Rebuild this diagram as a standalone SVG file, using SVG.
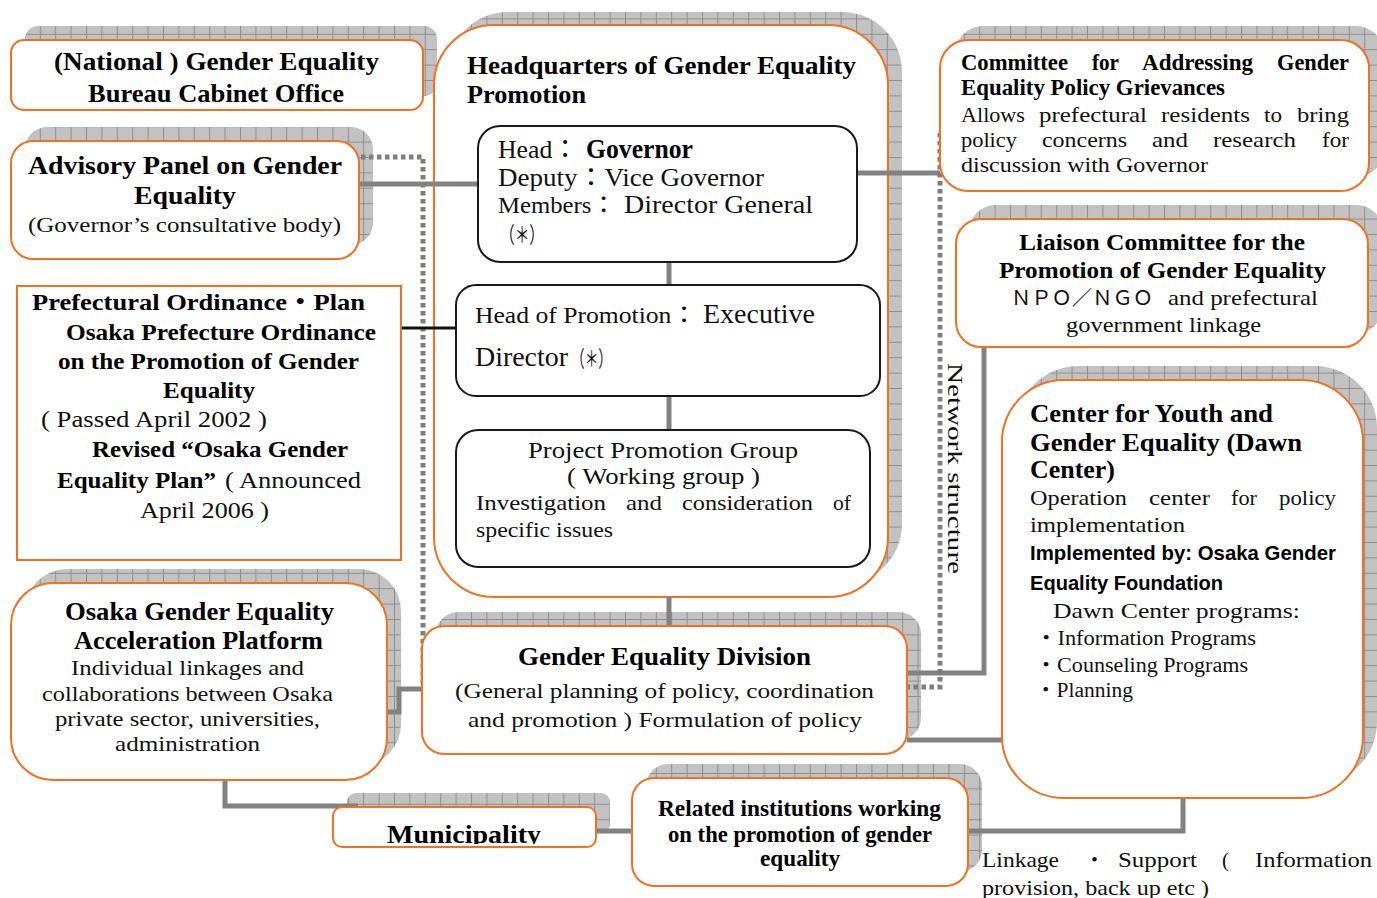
<svg xmlns="http://www.w3.org/2000/svg" width="1377" height="898" viewBox="0 0 1377 898">
<defs>
  <pattern id="grid" patternUnits="userSpaceOnUse" x="9" y="3" width="15.4" height="15.4">
    <rect width="15.4" height="15.4" fill="#c2c2c2"/>
    <path d="M0 0.5H15.4M0.5 0V15.4" stroke="#8e8e8e" stroke-width="1" fill="none"/>
  </pattern>
  <clipPath id="muniClip"><rect x="333" y="807" width="263" height="37"/></clipPath>
</defs>
<style>
  .shadow { fill: url(#grid); }
  .box { fill: #fff; stroke: #f37021; stroke-width: 2; }
  .inner { fill: #fff; stroke: #1a1a1a; stroke-width: 2; }
  .conn { fill: none; stroke: #828282; stroke-width: 5; }
  .dot { fill: none; stroke: #7e7e7e; stroke-width: 5; stroke-dasharray: 4.5 3.5; }
  .blk { fill: none; stroke: #111; stroke-width: 3; }
  text { font-family: "Liberation Serif", "Noto Sans CJK JP", serif; fill: #111; }
  .b { font-weight: bold; fill: #000; }
  .sans { font-family: "Liberation Sans", "Noto Sans CJK JP", sans-serif; font-weight: bold; fill: #000; }
  .cjk { font-family: "Noto Sans CJK JP", sans-serif; }
</style>
<rect width="1377" height="898" fill="#fff"/>

<!-- grid-textured drop shadows -->
<g id="shadows">
  <rect class="shadow" x="25" y="26" width="412" height="70" rx="13"/>
  <rect class="shadow" x="25" y="127" width="348" height="118" rx="22"/>
  <rect class="shadow" x="448" y="12" width="454" height="572" rx="60"/>
  <rect class="shadow" x="955" y="26" width="429" height="151" rx="28"/>
  <rect class="shadow" x="970" y="205" width="412" height="128" rx="25"/>
  <rect class="shadow" x="1016" y="366" width="361" height="418" rx="62"/>
  <rect class="shadow" x="25" y="569" width="376" height="197" rx="42"/>
  <rect class="shadow" x="436" y="612" width="485" height="128" rx="22"/>
  <rect class="shadow" x="347" y="793" width="263" height="40" rx="9"/>
  <rect class="shadow" x="646" y="764" width="336" height="108" rx="22"/>
</g>

<!-- headquarters frame -->
<g id="hq">
  <rect class="box" x="434" y="25" width="454" height="572" rx="60"/>
  <text class="b" x="467" y="74" font-size="26" textLength="389" lengthAdjust="spacingAndGlyphs">Headquarters of Gender Equality</text>
  <text class="b" x="467" y="103" font-size="26" textLength="119" lengthAdjust="spacingAndGlyphs">Promotion</text>
</g>

<!-- connectors -->
<g id="connectors">
  <path class="conn" d="M359 184H479"/>
  <path class="conn" d="M857 173H940"/>
  <path class="conn" d="M669 262V285"/>
  <path class="conn" d="M669 396V430"/>
  <path class="conn" d="M669 597V626"/>
  <path class="conn" d="M984 347V673H907"/>
  <path class="conn" d="M907 740H1002"/>
  <path class="conn" d="M422 689H399V712H387"/>
  <path class="conn" d="M225 780V806H358"/>
  <path class="conn" d="M596 831H632"/>
  <path class="conn" d="M968 831H1183V798"/>
  <path class="dot" d="M361 157H423V689"/>
  <path class="dot" d="M940 133V687H907"/>
  <path class="blk" d="M401 328H456"/>
</g>

<g id="hq-head">
  <rect class="inner" x="478" y="126" width="379" height="136" rx="22"/>
  <text x="498" y="158" font-size="26" textLength="80" lengthAdjust="spacingAndGlyphs">Head：</text>
  <text class="b" x="586" y="158" font-size="27" textLength="107" lengthAdjust="spacingAndGlyphs">Governor</text>
  <text x="498" y="186" font-size="25" textLength="266" lengthAdjust="spacingAndGlyphs">Deputy：Vice Governor</text>
  <text x="498" y="213" font-size="24" textLength="118" lengthAdjust="spacingAndGlyphs">Members：</text>
  <text x="624" y="213" font-size="26" textLength="189" lengthAdjust="spacingAndGlyphs">Director General</text>
  <text x="500" y="242" font-size="22" textLength="44" lengthAdjust="spacingAndGlyphs">（＊）</text>
</g>

<g id="hq-promotion">
  <rect class="inner" x="456" y="285" width="424" height="111" rx="20"/>
  <text x="475" y="323" font-size="24" textLength="222" lengthAdjust="spacingAndGlyphs">Head of Promotion：</text>
  <text x="703" y="323" font-size="27" textLength="112" lengthAdjust="spacingAndGlyphs">Executive</text>
  <text x="475" y="366" font-size="27" textLength="93" lengthAdjust="spacingAndGlyphs">Director</text>
  <text x="571" y="366" font-size="22" textLength="41" lengthAdjust="spacingAndGlyphs">（＊）</text>
</g>

<g id="hq-project">
  <rect class="inner" x="456" y="430" width="414" height="137" rx="22"/>
  <text x="528" y="458" font-size="23" textLength="270" lengthAdjust="spacingAndGlyphs">Project Promotion Group</text>
  <text x="567" y="484" font-size="23" textLength="193" lengthAdjust="spacingAndGlyphs">( Working group )</text>
  <text x="476" y="510" font-size="21" textLength="130" lengthAdjust="spacingAndGlyphs">Investigation</text>
  <text x="626" y="510" font-size="21" textLength="36" lengthAdjust="spacingAndGlyphs">and</text>
  <text x="682" y="510" font-size="21" textLength="131" lengthAdjust="spacingAndGlyphs">consideration</text>
  <text x="833" y="510" font-size="21" textLength="18" lengthAdjust="spacingAndGlyphs">of</text>
  <text x="476" y="537" font-size="21" textLength="137" lengthAdjust="spacingAndGlyphs">specific issues</text>
</g>

<g id="national">
  <rect class="box" x="11" y="40" width="412" height="70" rx="13"/>
  <text class="b" x="54" y="70" font-size="25" textLength="325" lengthAdjust="spacingAndGlyphs">(National ) Gender Equality</text>
  <text class="b" x="88" y="102" font-size="25" textLength="256" lengthAdjust="spacingAndGlyphs">Bureau Cabinet Office</text>
</g>

<g id="advisory">
  <rect class="box" x="11" y="141" width="348" height="118" rx="22"/>
  <text class="b" x="28" y="174" font-size="26" textLength="314" lengthAdjust="spacingAndGlyphs">Advisory Panel on Gender</text>
  <text class="b" x="134" y="204" font-size="26" textLength="102" lengthAdjust="spacingAndGlyphs">Equality</text>
  <text x="28" y="232" font-size="21" textLength="313" lengthAdjust="spacingAndGlyphs">(Governor’s consultative body)</text>
</g>

<g id="ordinance">
  <rect class="box" x="17" y="286" width="384" height="274"/>
  <text class="b" x="32" y="310" font-size="24" textLength="333" lengthAdjust="spacingAndGlyphs">Prefectural Ordinance・Plan</text>
  <text class="b" x="66" y="340" font-size="24" textLength="310" lengthAdjust="spacingAndGlyphs">Osaka Prefecture Ordinance</text>
  <text class="b" x="58" y="369" font-size="24" textLength="301" lengthAdjust="spacingAndGlyphs">on the Promotion of Gender</text>
  <text class="b" x="163" y="398" font-size="24" textLength="92" lengthAdjust="spacingAndGlyphs">Equality</text>
  <text x="41" y="427" font-size="23" textLength="226" lengthAdjust="spacingAndGlyphs">( Passed April 2002 )</text>
  <text class="b" x="92" y="457" font-size="24" textLength="256" lengthAdjust="spacingAndGlyphs">Revised “Osaka Gender</text>
  <text class="b" x="57" y="488" font-size="24" textLength="159" lengthAdjust="spacingAndGlyphs">Equality Plan”</text>
  <text x="225" y="488" font-size="23" textLength="136" lengthAdjust="spacingAndGlyphs">( Announced</text>
  <text x="140" y="518" font-size="23" textLength="129" lengthAdjust="spacingAndGlyphs">April 2006 )</text>
</g>

<g id="platform">
  <rect class="box" x="11" y="583" width="376" height="197" rx="42"/>
  <text class="b" x="65" y="620" font-size="26" textLength="269" lengthAdjust="spacingAndGlyphs">Osaka Gender Equality</text>
  <text class="b" x="74" y="649" font-size="26" textLength="249" lengthAdjust="spacingAndGlyphs">Acceleration Platform</text>
  <text x="71" y="675" font-size="22" textLength="233" lengthAdjust="spacingAndGlyphs">Individual linkages and</text>
  <text x="42" y="701" font-size="22" textLength="291" lengthAdjust="spacingAndGlyphs">collaborations between Osaka</text>
  <text x="55" y="726" font-size="22" textLength="265" lengthAdjust="spacingAndGlyphs">private sector, universities,</text>
  <text x="115" y="751" font-size="22" textLength="145" lengthAdjust="spacingAndGlyphs">administration</text>
</g>

<g id="division">
  <rect class="box" x="422" y="626" width="485" height="128" rx="22"/>
  <text class="b" x="518" y="665" font-size="25" textLength="293" lengthAdjust="spacingAndGlyphs">Gender Equality Division</text>
  <text x="455" y="698" font-size="22" textLength="419" lengthAdjust="spacingAndGlyphs">(General planning of policy, coordination</text>
  <text x="468" y="727" font-size="22" textLength="394" lengthAdjust="spacingAndGlyphs">and promotion ) Formulation of policy</text>
</g>

<g id="municipality">
  <rect class="box" x="333" y="807" width="263" height="40" rx="9"/>
  <text class="b" x="387" y="843" font-size="26" textLength="154" lengthAdjust="spacingAndGlyphs" clip-path="url(#muniClip)">Municipality</text>
</g>

<g id="related">
  <rect class="box" x="632" y="778" width="336" height="108" rx="22"/>
  <text class="b" x="658" y="816" font-size="23" textLength="283" lengthAdjust="spacingAndGlyphs">Related institutions working</text>
  <text class="b" x="668" y="842" font-size="23" textLength="264" lengthAdjust="spacingAndGlyphs">on the promotion of gender</text>
  <text class="b" x="760" y="866" font-size="23" textLength="80" lengthAdjust="spacingAndGlyphs">equality</text>
</g>

<g id="committee">
  <rect class="box" x="940" y="40" width="429" height="151" rx="28"/>
  <text class="b" x="961" y="70" font-size="23" textLength="107" lengthAdjust="spacingAndGlyphs">Committee</text>
  <text class="b" x="1092" y="70" font-size="23" textLength="27" lengthAdjust="spacingAndGlyphs">for</text>
  <text class="b" x="1142" y="70" font-size="23" textLength="111" lengthAdjust="spacingAndGlyphs">Addressing</text>
  <text class="b" x="1277" y="70" font-size="23" textLength="72" lengthAdjust="spacingAndGlyphs">Gender</text>
  <text class="b" x="961" y="95" font-size="23" textLength="264" lengthAdjust="spacingAndGlyphs">Equality Policy Grievances</text>
  <text x="961" y="122" font-size="21" textLength="64" lengthAdjust="spacingAndGlyphs">Allows</text>
  <text x="1039" y="122" font-size="21" textLength="108" lengthAdjust="spacingAndGlyphs">prefectural</text>
  <text x="1161" y="122" font-size="21" textLength="89" lengthAdjust="spacingAndGlyphs">residents</text>
  <text x="1264" y="122" font-size="21" textLength="18" lengthAdjust="spacingAndGlyphs">to</text>
  <text x="1297" y="122" font-size="21" textLength="52" lengthAdjust="spacingAndGlyphs">bring</text>
  <text x="961" y="147" font-size="21" textLength="56" lengthAdjust="spacingAndGlyphs">policy</text>
  <text x="1042" y="147" font-size="21" textLength="85" lengthAdjust="spacingAndGlyphs">concerns</text>
  <text x="1152" y="147" font-size="21" textLength="36" lengthAdjust="spacingAndGlyphs">and</text>
  <text x="1213" y="147" font-size="21" textLength="83" lengthAdjust="spacingAndGlyphs">research</text>
  <text x="1322" y="147" font-size="21" textLength="27" lengthAdjust="spacingAndGlyphs">for</text>
  <text x="961" y="172" font-size="21" textLength="247" lengthAdjust="spacingAndGlyphs">discussion with Governor</text>
</g>

<g id="liaison">
  <rect class="box" x="956" y="219" width="412" height="128" rx="25"/>
  <text class="b" x="1019" y="250" font-size="24" textLength="286" lengthAdjust="spacingAndGlyphs">Liaison Committee for the</text>
  <text class="b" x="999" y="278" font-size="24" textLength="327" lengthAdjust="spacingAndGlyphs">Promotion of Gender Equality</text>
  <text class="cjk" x="1011" y="305" font-size="20" textLength="142" lengthAdjust="spacingAndGlyphs">ＮＰＯ／ＮＧＯ</text>
  <text x="1168" y="305" font-size="21" textLength="150" lengthAdjust="spacingAndGlyphs">and prefectural</text>
  <text x="1066" y="332" font-size="21" textLength="195" lengthAdjust="spacingAndGlyphs">government linkage</text>
</g>

<g id="center">
  <rect class="box" x="1002" y="380" width="361" height="418" rx="62"/>
  <text class="b" x="1030" y="422" font-size="26" textLength="243" lengthAdjust="spacingAndGlyphs">Center for Youth and</text>
  <text class="b" x="1030" y="451" font-size="26" textLength="272" lengthAdjust="spacingAndGlyphs">Gender Equality (Dawn</text>
  <text class="b" x="1030" y="478" font-size="26" textLength="85" lengthAdjust="spacingAndGlyphs">Center)</text>
  <text x="1030" y="505" font-size="21" textLength="97" lengthAdjust="spacingAndGlyphs">Operation</text>
  <text x="1149" y="505" font-size="21" textLength="61" lengthAdjust="spacingAndGlyphs">center</text>
  <text x="1231" y="505" font-size="21" textLength="26" lengthAdjust="spacingAndGlyphs">for</text>
  <text x="1279" y="505" font-size="21" textLength="57" lengthAdjust="spacingAndGlyphs">policy</text>
  <text x="1030" y="532" font-size="21" textLength="155" lengthAdjust="spacingAndGlyphs">implementation</text>
  <text class="sans" x="1030" y="560" font-size="21" textLength="306" lengthAdjust="spacingAndGlyphs">Implemented by: Osaka Gender</text>
  <text class="sans" x="1030" y="590" font-size="21" textLength="193" lengthAdjust="spacingAndGlyphs">Equality Foundation</text>
  <text x="1053" y="618" font-size="22" textLength="247" lengthAdjust="spacingAndGlyphs">Dawn Center programs:</text>
  <text x="1035" y="645" font-size="20" textLength="221" lengthAdjust="spacingAndGlyphs">・Information Programs</text>
  <text x="1035" y="672" font-size="20" textLength="213" lengthAdjust="spacingAndGlyphs">・Counseling Programs</text>
  <text x="1035" y="697" font-size="20" textLength="98" lengthAdjust="spacingAndGlyphs">・Planning</text>
</g>

<!-- free-standing labels -->
<g id="labels">
  <text transform="translate(948 363) rotate(90)" x="0" y="0" font-size="22" textLength="211" lengthAdjust="spacingAndGlyphs">Network structure</text>
  <text x="982" y="867" font-size="21" textLength="77" lengthAdjust="spacingAndGlyphs">Linkage</text>
  <text x="1084" y="867" font-size="21">・</text>
  <text x="1118" y="867" font-size="21" textLength="79" lengthAdjust="spacingAndGlyphs">Support</text>
  <text x="1222" y="867" font-size="21">(</text>
  <text x="1255" y="867" font-size="21" textLength="117" lengthAdjust="spacingAndGlyphs">Information</text>
  <text x="982" y="895" font-size="21" textLength="227" lengthAdjust="spacingAndGlyphs">provision, back up etc )</text>
</g>
</svg>
